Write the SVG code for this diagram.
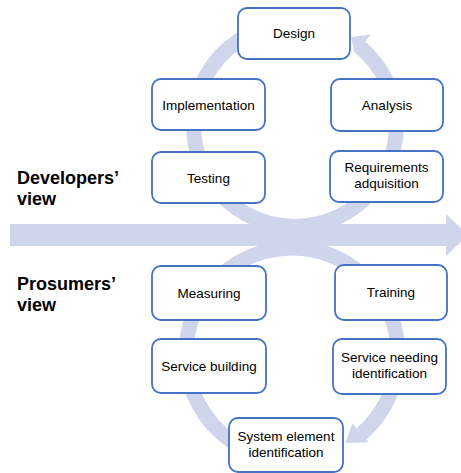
<svg xmlns="http://www.w3.org/2000/svg" width="461" height="473" viewBox="0 0 461 473">
<style>
.box{fill:#fff;stroke:#4472C4;stroke-width:1.8}
.t{font-family:"Liberation Sans",Arial,sans-serif;font-size:13.5px;fill:#000;text-anchor:middle}
.lab{font-family:"Liberation Sans",Arial,sans-serif;font-size:18px;font-weight:bold;fill:#000}
.ring{fill:none;stroke:#CFD5EA;stroke-width:15}
.head{fill:#CFD5EA}
</style>
<rect width="461" height="473" fill="#fff"/>
<g id="connectors">
<path class="ring" d="M277.4,25.0 A101.5,101.5 0 1 0 360.2,47.2"/>
<polygon class="head" points="354.8,53.8 370.9,34.6 351,37"/>
<path class="ring" d="M273.6,458.4 A106,106 0 1 1 361.5,434.0"/>
<polygon class="head" points="352.4,423.4 368.8,442.3 345.6,443.1"/>
<path class="head" d="M10,224 H446 V214 L468,235 L446,256 V246 H10 Z"/>
</g>
<g id="labels">
<text class="lab" x="17" y="183.5">Developers’</text>
<text class="lab" x="17" y="205">view</text>
<text class="lab" x="17" y="289.5">Prosumers’</text>
<text class="lab" x="17" y="311">view</text>
</g>
<g id="design"><rect class="box" x="238" y="8" width="112" height="51" rx="9"/><text class="t" x="294" y="38">Design</text></g>
<g id="implementation"><rect class="box" x="152" y="79" width="113" height="51" rx="9"/><text class="t" x="208.5" y="109.5">Implementation</text></g>
<g id="analysis"><rect class="box" x="331" y="79" width="112" height="52" rx="9"/><text class="t" x="387" y="109.7">Analysis</text></g>
<g id="testing"><rect class="box" x="152" y="152" width="113" height="51" rx="9"/><text class="t" x="208.5" y="182.5">Testing</text></g>
<g id="requirements"><rect class="box" x="330" y="151" width="113" height="51" rx="9"/><text class="t" x="386.5" y="172">Requirements</text><text class="t" x="386.5" y="188">adquisition</text></g>
<g id="measuring"><rect class="box" x="152" y="266" width="114" height="54" rx="9"/><text class="t" x="209" y="297.7">Measuring</text></g>
<g id="training"><rect class="box" x="335" y="265" width="112" height="55" rx="9"/><text class="t" x="391" y="297.2">Training</text></g>
<g id="service-building"><rect class="box" x="152" y="339" width="114" height="54" rx="9"/><text class="t" x="209" y="370.7">Service building</text></g>
<g id="service-needing"><rect class="box" x="333" y="339" width="113" height="55" rx="9"/><text class="t" x="389.5" y="362">Service needing</text><text class="t" x="389.5" y="378">identification</text></g>
<g id="system-element"><rect class="box" x="229" y="418" width="114" height="54" rx="9"/><text class="t" x="286" y="441">System element</text><text class="t" x="286" y="457">identification</text></g>
</svg>
